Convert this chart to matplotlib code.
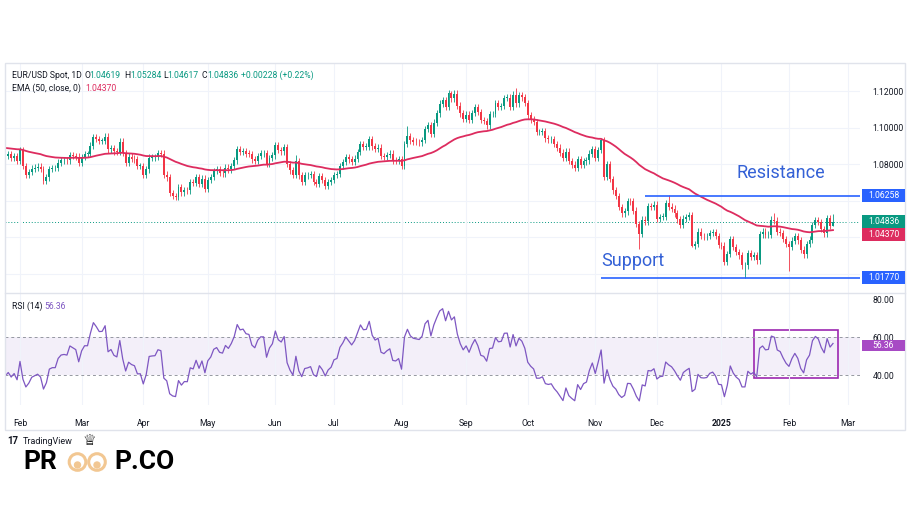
import numpy as np
import pandas as pd
import matplotlib
matplotlib.use("Agg")
import matplotlib.pyplot as plt
from matplotlib.patches import Rectangle, Circle

plt.rcParams["font.family"] = ["Roboto", "DejaVu Sans"]

W, H = 912, 513

# -----------------------------------------------------------------------
# EUR/USD daily closes (Dec 2023 / Jan 2024 only warm up the EMA and RSI)
# -----------------------------------------------------------------------
dec23 = [1.0884, 1.0838, 1.0795, 1.0763, 1.0790, 1.0762, 1.0763, 1.0795, 1.0875, 1.0990, 1.0895,
         1.0920, 1.0980, 1.0942, 1.1010, 1.1012, 1.1030, 1.1042, 1.1105, 1.1060, 1.1039]
jan24 = [1.1040, 1.0940, 1.0920, 1.0948, 1.0940, 1.0950, 1.0930, 1.0972, 1.0970, 1.0950, 1.0950,
         1.0880, 1.0885, 1.0875, 1.0897, 1.0885, 1.0855, 1.0885, 1.0845, 1.0855, 1.0835, 1.0845, 1.0818]
feb24 = [1.0875, 1.0790, 1.0742, 1.0755, 1.0775, 1.0780, 1.0785, 1.0772, 1.0708, 1.0727, 1.0772,
         1.0777, 1.0777, 1.0808, 1.0820, 1.0822, 1.0820, 1.0850, 1.0845, 1.0840, 1.0805]
mar24 = [1.0838, 1.0855, 1.0855, 1.0900, 1.0948, 1.0938, 1.0926, 1.0927, 1.0950, 1.0880, 1.0888,
         1.0870, 1.0865, 1.0922, 1.0860, 1.0808, 1.0840, 1.0830, 1.0825, 1.0790, 1.0790]
apr24 = [1.0742, 1.0770, 1.0835, 1.0837, 1.0838, 1.0860, 1.0857, 1.0742, 1.0727, 1.0642, 1.0625,
         1.0620, 1.0672, 1.0644, 1.0656, 1.0655, 1.0702, 1.0697, 1.0728, 1.0693, 1.0720, 1.0665]
may24 = [1.0712, 1.0728, 1.0762, 1.0770, 1.0752, 1.0749, 1.0780, 1.0770, 1.0790, 1.0820, 1.0882,
         1.0866, 1.0870, 1.0857, 1.0855, 1.0825, 1.0817, 1.0845, 1.0858, 1.0858, 1.0800, 1.0832, 1.0848]
jun24 = [1.0903, 1.0877, 1.0870, 1.0893, 1.0800, 1.0765, 1.0740, 1.0815, 1.0738, 1.0702,
         1.0737, 1.0740, 1.0745, 1.0702, 1.0692, 1.0733, 1.0713, 1.0680, 1.0702, 1.0712]
jul24 = [1.0740, 1.0745, 1.0790, 1.0810, 1.0838, 1.0825, 1.0812, 1.0830, 1.0865, 1.0907, 1.0893,
         1.0895, 1.0937, 1.0897, 1.0882, 1.0890, 1.0845, 1.0840, 1.0850, 1.0857, 1.0820, 1.0818, 1.0825]
aug24 = [1.0790, 1.0910, 1.0952, 1.0930, 1.0922, 1.0920, 1.0918, 1.0932, 1.0992, 1.1012, 1.0967,
         1.1027, 1.1077, 1.1130, 1.1150, 1.1112, 1.1190, 1.1160, 1.1185, 1.1120, 1.1077, 1.1048]
sep24 = [1.1070, 1.1040, 1.1080, 1.1112, 1.1085, 1.1040, 1.1035, 1.1012, 1.1073, 1.1075, 1.1132,
         1.1115, 1.1118, 1.1162, 1.1163, 1.1112, 1.1180, 1.1133, 1.1177, 1.1165, 1.1135]
oct24 = [1.1067, 1.1045, 1.1030, 1.0975, 1.0975, 1.0980, 1.0940, 1.0935, 1.0937, 1.0910, 1.0890,
         1.0862, 1.0832, 1.0867, 1.0817, 1.0797, 1.0780, 1.0827, 1.0797, 1.0815, 1.0820, 1.0857, 1.0883]
nov24 = [1.0835, 1.0877, 1.0930, 1.0730, 1.0800, 1.0718, 1.0655, 1.0625, 1.0565, 1.0530, 1.0540,
         1.0597, 1.0595, 1.0545, 1.0472, 1.0418, 1.0495, 1.0485, 1.0568, 1.0565, 1.0577]
dec24 = [1.0498, 1.0510, 1.0512, 1.0585, 1.0567, 1.0555, 1.0530, 1.0497, 1.0467, 1.0500, 1.0510,
         1.0518, 1.0352, 1.0362, 1.0430, 1.0405, 1.0403, 1.0405, 1.0422, 1.0427, 1.0405, 1.0355]
jan25 = [1.0352, 1.0265, 1.0307, 1.0390, 1.0345, 1.0317, 1.0300, 1.0245, 1.0245, 1.0310, 1.0292,
         1.0300, 1.0272, 1.0415, 1.0430, 1.0410, 1.0413, 1.0495, 1.0490, 1.0430, 1.0422, 1.0390, 1.0362]
feb25 = [1.0345, 1.0380, 1.0405, 1.0382, 1.0330, 1.0305, 1.0362, 1.0385, 1.0465, 1.0493, 1.0482,
         1.0445, 1.0420, 1.0502, 1.04619, 1.04836]

# wick extremes (high, low); None keeps the default wick
wick_extremes = {
    "2024-04-16": (None, 1.0601),
    "2024-06-12": (1.0852, None),
    "2024-08-05": (1.1009, None),
    "2024-08-26": (1.1202, None),
    "2024-09-25": (1.1214, None),
    "2024-11-05": (1.0937, None),
    "2024-11-22": (None, 1.0333),
    "2024-12-06": (1.0630, None),
    "2024-12-18": (None, 1.0343),
    "2025-01-13": (None, 1.0178),
    "2025-01-27": (1.0533, None),
    "2025-02-03": (None, 1.0215),
    "2025-02-24": (1.05284, 1.04617),
}

last_open, last_close = 1.04619, 1.04836
change, change_pct = 0.00228, 0.22
ema_len, ema_seed, ema_value = 50, 1.0750, 1.04370
rsi_len, rsi_value = 14, 56.36
support, resistance = 1.01770, 1.06258

price_ticks = [1.02, 1.04, 1.06, 1.08, 1.10, 1.12]
price_hidden = [1.02, 1.04, 1.06]    # sit under the support / last-price / resistance tags
rsi_ticks = [40, 60, 80]

GREEN, RED = "#089981", "#f23645"
EMA_C, RSI_C, BLUE = "#dd2c5f", "#7e57c2", "#2962ff"
TXT, GRID = "#131722", "#f0f3fa"
LOGO_ORANGE = "#f2c792"
WICK = 0.0018

# -----------------------------------------------------------------------
closes = np.array(dec23 + jan24 + feb24 + mar24 + apr24 + may24 + jun24 + jul24
                  + aug24 + sep24 + oct24 + nov24 + dec24 + jan25 + feb25)
dates = pd.bdate_range("2023-12-01", "2025-02-24")
assert len(dates) == len(closes), (len(dates), len(closes))
n = len(closes)
x = np.arange(n)

opens = np.r_[closes[0], closes[:-1]]
opens[-1] = last_open
highs = np.maximum(opens, closes) + WICK
lows = np.minimum(opens, closes) - WICK
for d, (hi, lo) in wick_extremes.items():
    k = dates.get_loc(pd.Timestamp(d))
    if hi is not None:
        highs[k] = hi
    if lo is not None:
        lows[k] = lo

ema = np.empty(n)
prev = ema_seed
for k, c in enumerate(closes):
    prev += 2 / (ema_len + 1) * (c - prev)
    ema[k] = prev

delta = np.diff(closes, prepend=closes[0])
up = pd.Series(np.clip(delta, 0, None)).ewm(alpha=1 / rsi_len, adjust=False).mean()
dn = pd.Series(np.clip(-delta, 0, None)).ewm(alpha=1 / rsi_len, adjust=False).mean()
rsi = (100 - 100 / (1 + up / dn)).values

def idx(d):
    return dates.get_loc(pd.Timestamp(d))

i0 = idx("2024-02-01")
px_per_bar = (833 - 20) / (n - 1 - i0)
xlim = (i0 - 15 / px_per_bar, i0 + 840 / px_per_bar)

# month ticks: first bar of each month, plus Mar 2025 in the empty right margin
month_pos, month_lab = [], []
for per in pd.period_range("2024-02", "2025-02", freq="M"):
    k = np.argmax(dates.to_period("M") == per)
    month_pos.append(k)
    month_lab.append("2025" if per.month == 1 else per.strftime("%b"))
month_pos.append(n - 1 + 5)
month_lab.append("Mar")

# -----------------------------------------------------------------------
fig = plt.figure(figsize=(W / 100, H / 100), dpi=100)

def box(l, t, r, b):
    return [l / W, 1 - b / H, (r - l) / W, (b - t) / H]

ax = fig.add_axes(box(5, 63, 860, 293))
axr = fig.add_axes(box(5, 293, 860, 405), sharex=ax)
over = fig.add_axes([0, 0, 1, 1], zorder=10)
over.set_xlim(0, W); over.set_ylim(H, 0); over.axis("off")

# candles
up_mask = closes >= opens
cols = np.where(up_mask, GREEN, RED)
ax.vlines(x, lows, highs, colors=cols, lw=0.6, zorder=2)
body_lo = np.minimum(opens, closes)
body_h = np.maximum(np.abs(closes - opens), 0.0003)
ax.bar(x, body_h, bottom=body_lo, width=0.66, color=cols, lw=0, zorder=3)
ax.plot(x, ema, color=EMA_C, lw=1.3, zorder=4)

ax.axhline(last_close, color=GREEN, lw=0.7, ls=(0, (1, 2)), zorder=1)
ax.hlines(support, idx("2024-11-05"), xlim[1], color=BLUE, lw=1.2, zorder=5)
ax.hlines(resistance, idx("2024-11-26"), xlim[1], color=BLUE, lw=1.2, zorder=5)
ax.text(idx("2025-01-08"), 1.0751, "Resistance", color="#3461d6", fontsize=13,
        va="center", ha="left", zorder=6)
ax.text(idx("2024-11-05"), 1.0268, "Support", color="#3461d6", fontsize=13,
        va="center", ha="left", zorder=6)

ax.set_xlim(*xlim)
ax.set_ylim(1.12 - 202 / 1825, 1.12 + 28 / 1825)
ax.yaxis.tick_right()
ax.set_yticks(price_ticks)
ax.set_yticklabels(["" if v in price_hidden else f"{v:.5f}" for v in price_ticks])
ax.tick_params(axis="y", length=0, pad=9, labelsize=6.2, labelcolor=TXT)
ax.tick_params(axis="x", length=0, labelbottom=False)
ax.grid(color=GRID, lw=0.8, zorder=0)
for s in ax.spines.values():
    s.set_visible(False)

# RSI pane
axr.axhspan(40, 60, color=RSI_C, alpha=0.09, lw=0)
axr.axhline(60, color="#9598a1", lw=0.7, ls=(0, (3, 3)))
axr.axhline(40, color="#9598a1", lw=0.7, ls=(0, (3, 3)))
axr.plot(x, rsi, color=RSI_C, lw=0.9)
axr.add_patch(Rectangle((idx("2025-01-16"), 38.4), n - 1 + 1.7 - idx("2025-01-16"), 25.3,
                        fill=False, ec="#9c27b0", lw=1.2))
axr.set_ylim(24.2, 83.2)
axr.yaxis.tick_right()
axr.set_yticks(rsi_ticks)
axr.set_yticklabels([f"{v:.2f}" for v in rsi_ticks])
axr.tick_params(axis="y", length=0, pad=9, labelsize=6.2, labelcolor=TXT)
axr.set_xticks(month_pos)
axr.set_xticklabels(month_lab)
axr.tick_params(axis="x", length=0, pad=10, labelsize=6.2, labelcolor=TXT)
for lab in axr.get_xticklabels():
    if lab.get_text() == "2025":
        lab.set_fontweight("bold")
axr.grid(axis="x", color=GRID, lw=0.8, zorder=0)
for s in axr.spines.values():
    s.set_visible(False)

# frame and pane separator
over.add_patch(Rectangle((5, 63), 900, 367, fill=False, ec="#e0e3eb", lw=1))
over.plot([5, 905], [293, 293], color="#e0e3eb", lw=1)

# right-hand price labels
def py(axis, v):
    return H - axis.transData.transform((0, v))[1]

def tag(y, text, color, h=13):
    over.add_patch(Rectangle((862, y - h / 2), 43, h, color=color, lw=0))
    over.text(883.5, y, text, color="white", fontsize=6.2, ha="center", va="center")

y_last = py(ax, last_close)
y_ema = max(py(ax, ema_value), y_last + 13)
tag(py(ax, resistance), f"{resistance:.5f}", BLUE)
tag(y_last, f"{last_close:.5f}", GREEN)
tag(y_ema, f"{ema_value:.5f}", EMA_C)
tag(py(ax, support), f"{support:.5f}", BLUE)
tag(py(axr, rsi_value) + 1.5, f"{rsi_value:.2f}", "#a74ac4", h=11)

# legend lines
hdr = 6.2
over.text(12.5, 75, "EUR/USD Spot, 1D", color=TXT, fontsize=hdr, va="center")
for lx, letter, vx, val in [(85, "O", 89.5, "1.04619"), (124.5, "H", 130, "1.05284"),
                            (163, "L", 167, "1.04617"), (202, "C", 207, "1.04836")]:
    over.text(lx, 75, letter, color=TXT, fontsize=hdr, va="center")
    over.text(vx, 75, val, color=GREEN, fontsize=hdr, va="center")
over.text(241, 75, f"+{change:.5f} (+{change_pct:.2f}%)", color=GREEN, fontsize=hdr, va="center")
over.text(12.5, 88.5, "EMA (50, close, 0)", color=TXT, fontsize=hdr, va="center")
over.text(85, 88.5, f"{ema_value:.5f}", color=EMA_C, fontsize=hdr, va="center")
over.text(12.5, 306.5, "RSI (14)", color=TXT, fontsize=hdr, va="center")
over.text(44, 306.5, f"{rsi_value:.2f}", color=RSI_C, fontsize=hdr, va="center")

# logos
over.text(7, 441, "17", color=TXT, fontsize=7, fontweight="bold", va="center")
over.text(23, 441, "TradingView", color=TXT, fontsize=6.5, va="center")
over.text(23, 462, "PR", color="black", fontsize=19, fontweight="bold", va="center")
for cx in (77.5, 97):
    over.add_patch(Circle((cx, 462), 8.3, fill=False, ec=LOGO_ORANGE, lw=2.2))
    over.add_patch(Circle((cx, 465), 3.0, color=LOGO_ORANGE))
over.text(89, 441, "\u2655", color="black", fontsize=11, ha="center", va="center")
over.text(114, 462, "P.CO", color="black", fontsize=19, fontweight="bold", va="center")

fig.savefig("out.png", dpi=100)
